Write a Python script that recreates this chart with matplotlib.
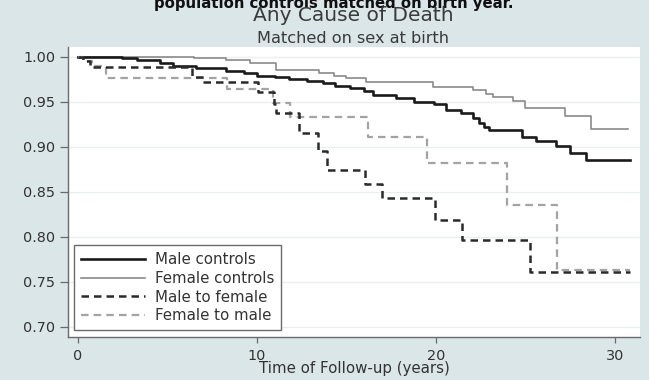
import matplotlib
matplotlib.use("Agg")
import matplotlib.pyplot as plt

# ---------------- data (Kaplan-Meier step curves) ----------------
male_ctrl_t = [0, 2.5, 3.3, 4.6, 5.3, 6.6, 8.3, 9.3, 10.0, 11.0, 11.8, 12.8, 13.7,
               14.4, 15.2, 16.0, 16.5, 17.8, 18.8, 19.9, 20.6, 21.4, 22.1, 22.4,
               22.7, 23.0, 24.8, 25.6, 26.7, 27.5, 28.4, 30.85]
male_ctrl_s = [1.000, 0.9985, 0.996, 0.993, 0.990, 0.987, 0.984, 0.982, 0.979, 0.977,
               0.975, 0.973, 0.971, 0.967, 0.965, 0.962, 0.958, 0.954, 0.950, 0.947,
               0.941, 0.938, 0.932, 0.926, 0.922, 0.919, 0.911, 0.906, 0.901, 0.893,
               0.885, 0.885]

female_ctrl_t = [0, 6.5, 8.3, 9.6, 11.1, 13.5, 14.3, 15.0, 16.1, 19.85, 22.1, 22.8,
                 23.2, 24.3, 25.0, 27.2, 28.7, 30.75]
female_ctrl_s = [1.000, 0.9985, 0.996, 0.993, 0.985, 0.982, 0.979, 0.976, 0.972,
                 0.9665, 0.9635, 0.959, 0.955, 0.951, 0.943, 0.9345, 0.920, 0.920]

mtf_t = [0, 0.3, 0.7, 6.4, 7.0, 10.1, 10.95, 11.1, 12.35, 13.4, 13.9, 16.05, 17.0,
         19.95, 21.45, 25.27, 30.85]
mtf_s = [1.000, 0.995, 0.989, 0.977, 0.972, 0.961, 0.948, 0.937, 0.915, 0.895,
         0.874, 0.859, 0.843, 0.819, 0.796, 0.761, 0.761]

ftm_t = [0, 0.3, 0.8, 1.6, 8.35, 10.9, 11.86, 16.2, 19.5, 24.0, 26.76, 30.85]
ftm_s = [1.000, 0.995, 0.990, 0.9765, 0.964, 0.949, 0.933, 0.911, 0.8815, 0.835,
         0.763, 0.763]

labels = ["Male controls", "Female controls", "Male to female", "Female to male"]
y_ticks = [0.70, 0.75, 0.80, 0.85, 0.90, 0.95, 1.00]
x_ticks = [0, 10, 20, 30]

# ---------------- figure ----------------
plt.rcParams['font.family'] = ['DejaVu Sans']
BG = '#dae6e8'
fig = plt.figure(figsize=(6.49, 3.80), dpi=100, facecolor=BG)
ax = fig.add_axes([68/649, 43/380, 572/649, 290/380])
ax.set_facecolor('white')

ax.plot(male_ctrl_t, male_ctrl_s, drawstyle='steps-post', color='#1a1a1a', lw=1.9,
        label=labels[0], zorder=4)
ax.plot(female_ctrl_t, female_ctrl_s, drawstyle='steps-post', color='#8a8a8a', lw=1.2,
        label=labels[1], zorder=3)
ax.plot(mtf_t, mtf_s, drawstyle='steps-post', color='#2a2a2a', lw=1.8,
        dashes=(3, 2), label=labels[2], zorder=5)
ax.plot(ftm_t, ftm_s, drawstyle='steps-post', color='#a3a3a3', lw=1.6,
        dashes=(3.4, 2.3), label=labels[3], zorder=4)

ax.set_xlim(-0.54, 31.41)
ax.set_ylim(0.6886, 1.0108)
ax.set_yticks(y_ticks)
ax.set_yticklabels([f"{v:.2f}" for v in y_ticks])
ax.set_xticks(x_ticks)

for v in y_ticks:
    ax.axhline(v, color='#e9f0f1', lw=1.0, zorder=0)

for s in ['top', 'right']:
    ax.spines[s].set_visible(False)
for s in ['left', 'bottom']:
    ax.spines[s].set_color('#6a6a6a')
    ax.spines[s].set_linewidth(1.0)

ax.tick_params(axis='y', length=5.5, width=0.9, color='#6a6a6a', pad=3.5,
               labelsize=10.4, labelcolor='#333333')
ax.tick_params(axis='x', length=4, width=0.9, color='#6a6a6a', pad=4.5,
               labelsize=10.4, labelcolor='#333333')

ax.set_xlabel("Time of Follow-up (years)", fontsize=10.8, color='#333333', labelpad=-1)

leg = ax.legend(loc='lower left', bbox_to_anchor=(0.0105, 0.024), borderaxespad=0,
                fontsize=10.8, handlelength=4.3, handletextpad=0.65, labelspacing=0.25,
                borderpad=0.45, fancybox=False, framealpha=1, edgecolor='#6a6a6a')
leg.get_frame().set_linewidth(1.0)
for t in leg.get_texts():
    t.set_color('#333333')

fig.text(0.514, 0.978, "population controls matched on birth year.", ha='center',
         va='baseline', fontsize=10.7, fontweight='bold', color='#111111')
fig.text(0.5447, 0.9455, "Any Cause of Death", ha='center', va='baseline',
         fontsize=14.5, color='#3a3a3a')
fig.text(0.5445, 0.8876, "Matched on sex at birth", ha='center', va='baseline',
         fontsize=11.6, color='#3a3a3a')

fig.savefig("out.png", dpi=100, facecolor=BG)
